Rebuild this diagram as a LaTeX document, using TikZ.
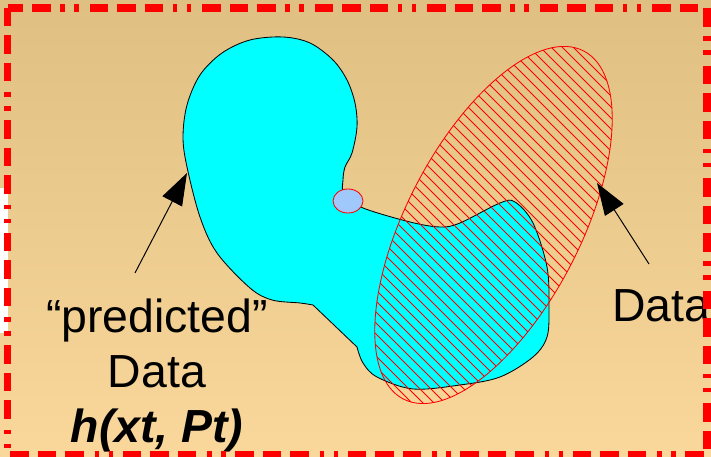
\documentclass[tikz,border=0pt]{standalone}
\usepackage{fontspec}
\setmainfont{Liberation Sans}
\usetikzlibrary{arrows.meta}
\definecolor{bgtop}{RGB}{223,192,130}
\definecolor{bgbot}{RGB}{250,215,155}
\definecolor{aqua}{RGB}{0,255,255}
\definecolor{dropblue}{RGB}{160,200,250}
\definecolor{hatchred}{RGB}{255,0,0}
\tikzset{
  % cyan region
  blob/.style={fill=aqua, draw=black, line width=0.6pt},
  % red hatching of the data ellipse
  hatch/.style={draw=hatchred, line width=0.6pt},
  % dash-dot frame
  frame/.style={draw=hatchred, line width=5pt,
    dash pattern=on 13pt off 6.5pt on 13pt off 6.5pt on 13pt off 8pt on 3pt off 7pt on 3pt off 7pt},
  % big labels
  lbl/.style={font=\fontsize{33pt}{39pt}\selectfont, inner sep=0pt, text=black},
  % pointer arrow
  arr/.style={-{Triangle[length=0.8cm, width=0.55cm]}, line width=0.7pt, black},
}
\begin{document}
\begin{tikzpicture}[x=0.025cm, y=0.025cm]
  \useasboundingbox (0,0) rectangle (711,457);
  \shade[top color=bgtop, bottom color=bgbot] (0,0) rectangle (711,457);
  \fill[white] (0,124) rectangle (8,269);

  % predicted region
  \draw[blob] (313,152) -- plot[smooth, tension=.55] coordinates {
    (357,110) (363,94) (377,80) (413,68) (460,72) (500,80) (533,100)
    (547,120) (549,150) (547,190) (533,234) (515,255) (500,254) (460,234)
    (440,230) (410,235) (363,249) (344,262) (343,277) (345,290) (352,304)
    (357,330) (355,354) (347,377) (333,397) (310,414) (283,420) (250,417)
    (222,404) (200,382) (187,352) (183,320) (187,290) (200,240)
    (217,204) (250,169) (272,157) (300,154) (313,152)} -- cycle;
  \draw[hatchred, fill=dropblue, line width=0.6pt] (348,256) ellipse [x radius=15, y radius=12];

  % data ellipse
  \begin{scope}
    \clip (493.5,232) ellipse [x radius=196, y radius=87, rotate=62.6];
    \foreach \c in {400,411,...,1120}
      \draw[hatch] (\c-460,460) -- (\c,0);
  \end{scope}
  \draw[hatch] (493.5,232) ellipse [x radius=196, y radius=87, rotate=62.6];

  % labels
  \node[lbl, align=center, anchor=north] (pred) at (157,158)
    {“predicted”\\Data\\\textbf{\textit{h(xt, Pt)}}};
  \node[lbl, anchor=base west] (data) at (612,135) {Data};

  \coordinate (predtail) at (135,184);
  \coordinate (predtip)  at (187,284);
  \coordinate (datatail) at (649,193);
  \coordinate (datatip)  at (597,274);
  \draw[arr] (predtail) -- (predtip);
  \draw[arr] (datatail) -- (datatip);

  % frame
  \draw[frame] (7.5,449) rectangle (707,2);
\end{tikzpicture}
\end{document}
